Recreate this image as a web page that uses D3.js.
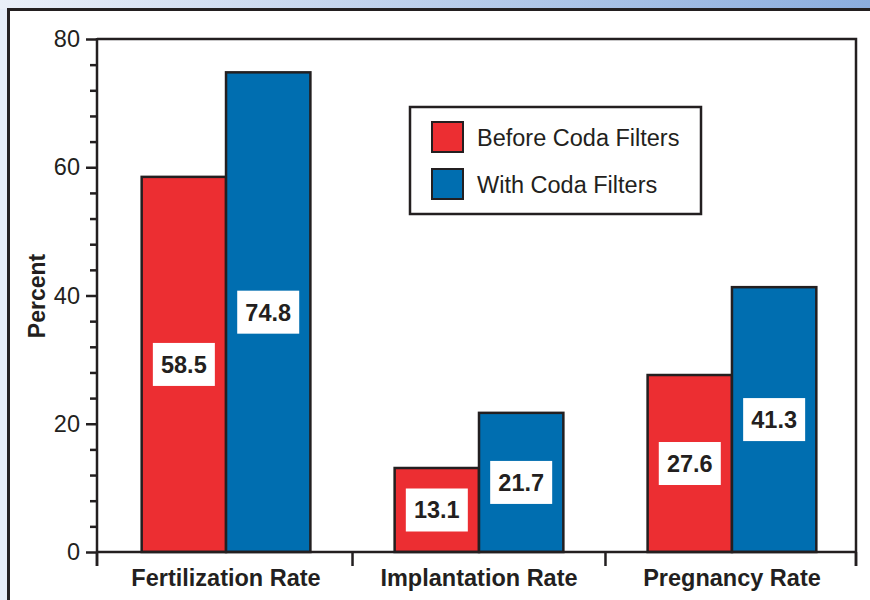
<!DOCTYPE html>
<html>
<head>
<meta charset="utf-8">
<script src="https://cdn.jsdelivr.net/npm/d3@7"></script>
<style>
html,body{margin:0;padding:0;background:#fff;}
svg{display:block;}
text{font-family:"Liberation Sans",Arial,Helvetica,sans-serif;fill:#231f20;}
</style>
</head>
<body>
<svg id="chart" width="870" height="600"></svg>
<script>
const categories = ["Fertilization Rate", "Implantation Rate", "Pregnancy Rate"];
const seriesNames = ["Before Coda Filters", "With Coda Filters"];
const beforeValues = [58.5, 13.1, 27.6];
const withValues = [74.8, 21.7, 41.3];
const valueLabels = [["58.5", "13.1", "27.6"], ["74.8", "21.7", "41.3"]];
const majorTicks = [0, 20, 40, 60, 80];
const minorTicks = d3.range(0, 81, 4);
const colors = ["#ec2e32", "#006eb0"];
const ink = "#231f20";

(function () {
const svg = d3.select("#chart");

// background decoration
const defs = svg.append("defs");
const grad = defs.append("linearGradient").attr("id", "topgrad").attr("x1", "0").attr("x2", "1").attr("y1", "0").attr("y2", "0");
grad.append("stop").attr("offset", "0").attr("stop-color", "#eaeff8");
grad.append("stop").attr("offset", "1").attr("stop-color", "#8badde");
svg.append("rect").attr("x", 0).attr("y", 0).attr("width", 870).attr("height", 600).attr("fill", "#e5ebf6");
svg.append("rect").attr("x", 0).attr("y", 0).attr("width", 870).attr("height", 9).attr("fill", "url(#topgrad)");
svg.append("rect").attr("x", 8.5).attr("y", 9.5).attr("width", 900).attr("height", 700)
  .attr("fill", "#fff").attr("stroke", ink).attr("stroke-width", 3);

const pl = 97, pr = 856, pt = 39, pb = 552;

const x = d3.scaleBand().domain(categories).range([pl + 2.5, pr + 2.5]).paddingInner(0.333).paddingOuter(0.1667);
const xs = d3.scaleBand().domain([0, 1]).range([0, x.bandwidth()]);
const y = d3.scaleLinear().domain([0, 80]).range([pb, pt]);

const data = categories.map((c, i) => ({cat: c, vals: [beforeValues[i], withValues[i]], labels: [valueLabels[0][i], valueLabels[1][i]]}));

// bars
const groups = svg.append("g").selectAll("g").data(data).join("g")
  .attr("transform", d => `translate(${x(d.cat)},0)`);

groups.selectAll("rect.bar").data(d => d.vals.map((v, k) => ({v, k}))).join("rect")
  .attr("class", "bar")
  .attr("x", d => xs(d.k))
  .attr("y", d => y(d.v))
  .attr("width", xs.bandwidth())
  .attr("height", d => y(0) - y(d.v))
  .attr("fill", d => colors[d.k])
  .attr("stroke", ink).attr("stroke-width", 2.5);

// value labels
const lab = groups.selectAll("g.lab").data(d => d.vals.map((v, k) => ({v, k, t: d.labels[k]}))).join("g")
  .attr("class", "lab")
  .attr("transform", d => `translate(${xs(d.k) + xs.bandwidth() / 2},${y(d.v / 2)})`);
lab.append("rect").attr("x", -31).attr("y", -21.5).attr("width", 62).attr("height", 43).attr("fill", "#fff");
lab.append("text").attr("text-anchor", "middle").attr("y", 8.5)
  .style("font-size", "23.5px").style("font-weight", "bold").text(d => d.t);

// frame top & right
svg.append("path").attr("d", `M${pl},${pt}H${pr}V${pb + 14}`)
  .attr("fill", "none").attr("stroke", ink).attr("stroke-width", 2.5);

// y axis
const yAxis = d3.axisLeft(y).tickValues(majorTicks).tickSize(11).tickPadding(6).tickFormat(d3.format("d"));
const ya = svg.append("g").attr("transform", `translate(${pl},0)`).call(yAxis);
ya.select(".domain").remove();
ya.selectAll(".tick line").attr("stroke", ink).attr("stroke-width", 2.5);
ya.selectAll(".tick text").style("font-size", "23.5px").attr("fill", ink).attr("font-family", null);
const yMinor = d3.axisLeft(y).tickValues(minorTicks.filter(v => v % 20 !== 0)).tickSize(7).tickFormat("");
const ym = svg.append("g").attr("transform", `translate(${pl},0)`).call(yMinor);
ym.select(".domain").remove();
ym.selectAll(".tick line").attr("stroke", ink).attr("stroke-width", 2.5);
svg.append("line").attr("x1", pl).attr("x2", pl).attr("y1", pt - 1).attr("y2", pb + 14)
  .attr("stroke", ink).attr("stroke-width", 2.5);

// x axis
svg.append("line").attr("x1", pl).attr("x2", pr).attr("y1", pb).attr("y2", pb)
  .attr("stroke", ink).attr("stroke-width", 2.5);
const step = x.step();
const bounds = categories.map(c => x(c) - step * x.paddingInner() / 2).concat([pr]);
bounds[0] = pl;
svg.append("g").selectAll("line").data(bounds).join("line")
  .attr("x1", d => d).attr("x2", d => d).attr("y1", pb).attr("y2", pb + 14)
  .attr("stroke", ink).attr("stroke-width", 2.5);
const xAxis = d3.axisBottom(x).tickSize(0).tickPadding(0);
const xa = svg.append("g").attr("transform", `translate(0,${pb})`).call(xAxis);
xa.select(".domain").remove();
xa.selectAll(".tick text").attr("dy", null).attr("y", 34).attr("font-family", null)
  .style("font-size", "23.5px").style("font-weight", "bold").attr("fill", ink);

// y label
svg.append("text").attr("transform", "translate(45,296) rotate(-90)").attr("text-anchor", "middle")
  .style("font-size", "23px").style("font-weight", "bold").text("Percent");

// legend
const lg = svg.append("g");
lg.append("rect").attr("x", 410).attr("y", 107).attr("width", 291).attr("height", 107)
  .attr("fill", "#fff").attr("stroke", ink).attr("stroke-width", 2.5);
const items = lg.selectAll("g").data(seriesNames).join("g")
  .attr("transform", (d, i) => `translate(432,${122 + i * 47})`);
items.append("rect").attr("width", 31).attr("height", 30).attr("fill", (d, i) => colors[i])
  .attr("stroke", ink).attr("stroke-width", 2);
items.append("text").attr("x", 45).attr("y", 24).style("font-size", "23.5px").text(d => d);
})();
</script>
</body>
</html>
